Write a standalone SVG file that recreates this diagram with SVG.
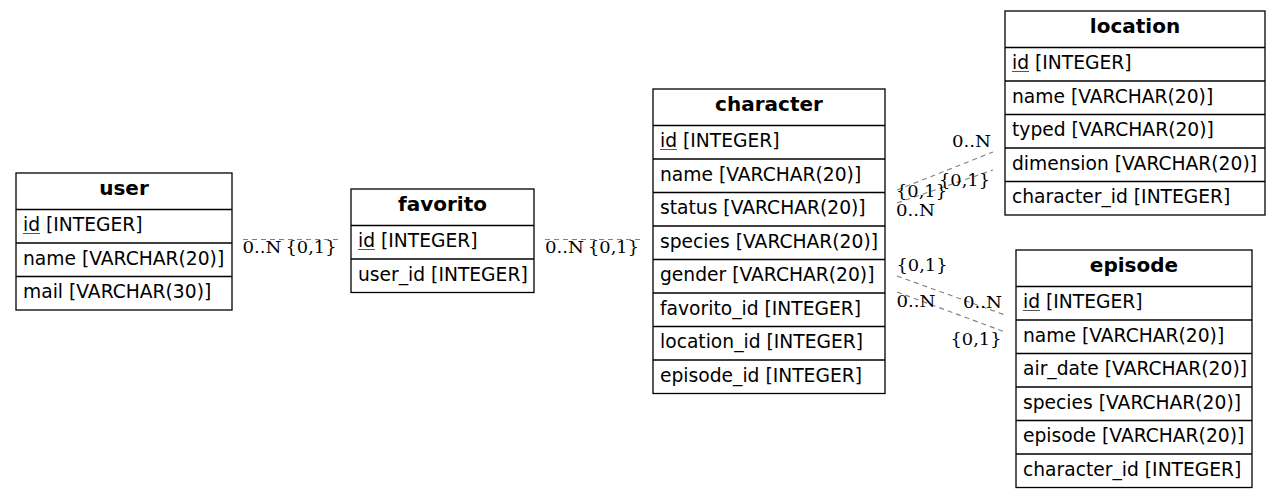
<svg xmlns="http://www.w3.org/2000/svg" width="1280" height="498" viewBox="0 0 1280 498">
<style>
.box{fill:#fff;stroke:#000;stroke-width:1.3}
.sep{stroke:#000;stroke-width:1.5}
.hd{font-family:"DejaVu Sans",sans-serif;font-weight:bold;font-size:20px;text-anchor:middle;fill:#000}
.f{font-family:"DejaVu Sans",sans-serif;font-size:18.7px;fill:#000}
.ul{stroke:#555;stroke-width:1}
.e{stroke:#808080;stroke-width:1.1;stroke-dasharray:5,4;fill:none}
.l{font-family:"DejaVu Serif",serif;font-size:16.5px;fill:#000}
</style>
<rect width="1280" height="498" fill="#fff"/>
<g id="edges">
<line class="e" x1="243" y1="239.5" x2="342" y2="239.5"/>
<line class="e" x1="545" y1="239.5" x2="642" y2="239.5"/>
<line class="e" x1="897" y1="190" x2="993" y2="152"/>
<line class="e" x1="897" y1="203" x2="993" y2="170"/>
<line class="e" x1="897" y1="276" x2="1005" y2="315"/>
<line class="e" x1="897" y1="292" x2="1005" y2="332"/>
<text class="l" x="242.5" y="253" textLength="39" lengthAdjust="spacingAndGlyphs">0..N</text>
<text class="l" x="285.5" y="253" textLength="51" lengthAdjust="spacingAndGlyphs">{0,1}</text>
<text class="l" x="545" y="253" textLength="39" lengthAdjust="spacingAndGlyphs">0..N</text>
<text class="l" x="588" y="253" textLength="51" lengthAdjust="spacingAndGlyphs">{0,1}</text>
<text class="l" x="952" y="147" textLength="39" lengthAdjust="spacingAndGlyphs">0..N</text>
<text class="l" x="896" y="197" textLength="51" lengthAdjust="spacingAndGlyphs">{0,1}</text>
<text class="l" x="939" y="186" textLength="51" lengthAdjust="spacingAndGlyphs">{0,1}</text>
<text class="l" x="896" y="216" textLength="39" lengthAdjust="spacingAndGlyphs">0..N</text>
<text class="l" x="896.5" y="271" textLength="51" lengthAdjust="spacingAndGlyphs">{0,1}</text>
<text class="l" x="896.5" y="307" textLength="39" lengthAdjust="spacingAndGlyphs">0..N</text>
<text class="l" x="963" y="308" textLength="39" lengthAdjust="spacingAndGlyphs">0..N</text>
<text class="l" x="950.5" y="345" textLength="51" lengthAdjust="spacingAndGlyphs">{0,1}</text>
</g>
<g id="user">
<rect class="box" x="16" y="173" width="216" height="137"/>
<line class="sep" x1="16" y1="209.5" x2="232" y2="209.5"/>
<line class="sep" x1="16" y1="243" x2="232" y2="243"/>
<line class="sep" x1="16" y1="276.5" x2="232" y2="276.5"/>
<text class="hd" x="124" y="195">user</text>
<text class="f" x="23" y="231">id [INTEGER]</text>
<line class="ul" x1="23" y1="233.5" x2="40" y2="233.5"/>
<text class="f" x="23" y="264.5">name [VARCHAR(20)]</text>
<text class="f" x="23" y="298">mail [VARCHAR(30)]</text>
</g>
<g id="favorito">
<rect class="box" x="351" y="189" width="183" height="103.5"/>
<line class="sep" x1="351" y1="225.5" x2="534" y2="225.5"/>
<line class="sep" x1="351" y1="259" x2="534" y2="259"/>
<text class="hd" x="442.5" y="211">favorito</text>
<text class="f" x="358" y="247">id [INTEGER]</text>
<line class="ul" x1="358" y1="249.5" x2="375" y2="249.5"/>
<text class="f" x="358" y="280.5">user_id [INTEGER]</text>
</g>
<g id="character">
<rect class="box" x="653" y="89" width="232" height="304.5"/>
<line class="sep" x1="653" y1="125.5" x2="885" y2="125.5"/>
<line class="sep" x1="653" y1="159" x2="885" y2="159"/>
<line class="sep" x1="653" y1="192.5" x2="885" y2="192.5"/>
<line class="sep" x1="653" y1="226" x2="885" y2="226"/>
<line class="sep" x1="653" y1="259.5" x2="885" y2="259.5"/>
<line class="sep" x1="653" y1="293" x2="885" y2="293"/>
<line class="sep" x1="653" y1="326.5" x2="885" y2="326.5"/>
<line class="sep" x1="653" y1="360" x2="885" y2="360"/>
<text class="hd" x="769" y="111">character</text>
<text class="f" x="660" y="147">id [INTEGER]</text>
<line class="ul" x1="660" y1="149.5" x2="677" y2="149.5"/>
<text class="f" x="660" y="180.5">name [VARCHAR(20)]</text>
<text class="f" x="660" y="214">status [VARCHAR(20)]</text>
<text class="f" x="660" y="247.5">species [VARCHAR(20)]</text>
<text class="f" x="660" y="281">gender [VARCHAR(20)]</text>
<text class="f" x="660" y="314.5">favorito_id [INTEGER]</text>
<text class="f" x="660" y="348">location_id [INTEGER]</text>
<text class="f" x="660" y="381.5">episode_id [INTEGER]</text>
</g>
<g id="location">
<rect class="box" x="1005" y="11" width="260" height="204"/>
<line class="sep" x1="1005" y1="47.5" x2="1265" y2="47.5"/>
<line class="sep" x1="1005" y1="81" x2="1265" y2="81"/>
<line class="sep" x1="1005" y1="114.5" x2="1265" y2="114.5"/>
<line class="sep" x1="1005" y1="148" x2="1265" y2="148"/>
<line class="sep" x1="1005" y1="181.5" x2="1265" y2="181.5"/>
<text class="hd" x="1135" y="33">location</text>
<text class="f" x="1012" y="69">id [INTEGER]</text>
<line class="ul" x1="1012" y1="71.5" x2="1029" y2="71.5"/>
<text class="f" x="1012" y="102.5">name [VARCHAR(20)]</text>
<text class="f" x="1012" y="136">typed [VARCHAR(20)]</text>
<text class="f" x="1012" y="169.5">dimension [VARCHAR(20)]</text>
<text class="f" x="1012" y="203">character_id [INTEGER]</text>
</g>
<g id="episode">
<rect class="box" x="1016" y="250" width="236" height="237.5"/>
<line class="sep" x1="1016" y1="286.5" x2="1252" y2="286.5"/>
<line class="sep" x1="1016" y1="320" x2="1252" y2="320"/>
<line class="sep" x1="1016" y1="353.5" x2="1252" y2="353.5"/>
<line class="sep" x1="1016" y1="387" x2="1252" y2="387"/>
<line class="sep" x1="1016" y1="420.5" x2="1252" y2="420.5"/>
<line class="sep" x1="1016" y1="454" x2="1252" y2="454"/>
<text class="hd" x="1134" y="272">episode</text>
<text class="f" x="1023" y="308">id [INTEGER]</text>
<line class="ul" x1="1023" y1="310.5" x2="1040" y2="310.5"/>
<text class="f" x="1023" y="341.5">name [VARCHAR(20)]</text>
<text class="f" x="1023" y="375">air_date [VARCHAR(20)]</text>
<text class="f" x="1023" y="408.5">species [VARCHAR(20)]</text>
<text class="f" x="1023" y="442">episode [VARCHAR(20)]</text>
<text class="f" x="1023" y="475.5">character_id [INTEGER]</text>
</g>
</svg>
